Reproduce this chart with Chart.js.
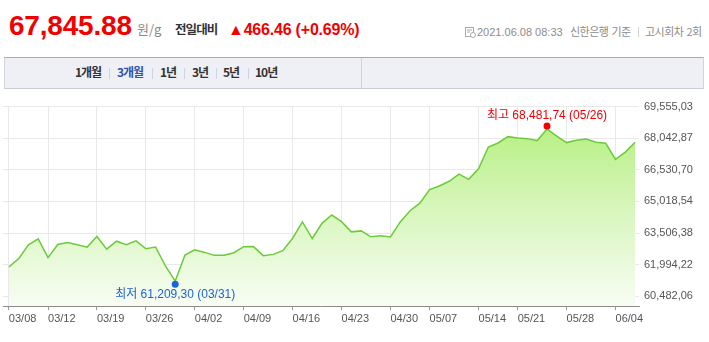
<!DOCTYPE html>
<html><head><meta charset="utf-8">
<script src="https://cdn.jsdelivr.net/npm/chart.js@4/dist/chart.umd.min.js"></script>
<style>
html,body{margin:0;padding:0;background:#fff;width:709px;height:342px;overflow:hidden;position:relative;font-family:"Liberation Sans",Arial,"Noto Sans CJK KR",sans-serif;}
.abs{position:absolute;white-space:nowrap;}
#price{left:9px;top:12px;font-size:28px;line-height:28px;font-weight:bold;color:#f20000;letter-spacing:-0.2px;}
#unit{left:137px;top:22px;font-size:13px;line-height:13px;color:#8a8a8a;font-family:"Noto Sans CJK KR",sans-serif;}
#cmpLabel{left:175px;top:22px;font-size:12.5px;line-height:13px;color:#333;font-weight:bold;letter-spacing:-0.9px;font-family:"Noto Sans CJK KR",sans-serif;}
#cmpVal{left:228px;top:22px;font-size:16px;line-height:16px;color:#f20000;font-weight:bold;letter-spacing:-0.2px;}
.info{top:26px;font-size:11px;line-height:12px;color:#8c8c8c;}
.infok{top:25px;font-size:11px;line-height:12px;color:#8c8c8c;font-family:"Noto Sans CJK KR",sans-serif;letter-spacing:-0.5px;word-spacing:1px;}
#tabbar{left:4px;top:57px;width:698px;height:30px;background:#eff0f5;border-top:1px solid #a8aab3;border-bottom:1px solid #c9cad2;border-left:1px solid #d4d5dc;border-right:1px solid #d4d5dc;}
#tabdiv{left:356px;top:0px;width:1px;height:30px;background:#d0d1d8;}
.tab{position:absolute;top:7px;font-size:12px;line-height:14px;font-weight:bold;color:#333;letter-spacing:-1px;font-family:"Noto Sans CJK KR",sans-serif;}
.tab.on{color:#3550a8;}
.sep{position:absolute;top:10px;width:1px;height:11px;background:#cfd3de;}
#chartbox{left:0;top:95px;width:709px;height:247px;}
</style></head>
<body>
<div class="abs" id="price">67,845.88</div>
<div class="abs" id="unit">원/g</div>
<div class="abs" id="cmpLabel">전일대비</div>
<div class="abs" id="cmpVal">▲466.46 (+0.69%)</div>
<div class="abs info" style="left:465px"><svg width="11" height="11" viewBox="0 0 11 11" style="vertical-align:-2px"><rect x="0.5" y="0.5" width="8" height="9" fill="none" stroke="#aaa"/><line x1="2" y1="3" x2="7" y2="3" stroke="#aaa"/><line x1="2" y1="5" x2="5" y2="5" stroke="#aaa"/><circle cx="8" cy="8" r="2.5" fill="#fff" stroke="#aaa"/></svg></div>
<div class="abs info" style="left:477px">2021.06.08 08:33</div>
<div class="abs infok" style="left:570px">신한은행 기준</div>
<div class="abs" style="left:638px;top:27px;width:1px;height:10px;background:#d5d5d5"></div>
<div class="abs infok" style="left:645px">고시회차 2회</div>
<div class="abs" id="tabbar">
  <div class="abs" id="tabdiv"></div>
  <span class="tab" style="left:70px">1개월</span><span class="sep" style="left:104px"></span>
  <span class="tab on" style="left:112px">3개월</span><span class="sep" style="left:147px"></span>
  <span class="tab" style="left:155px">1년</span><span class="sep" style="left:179px"></span>
  <span class="tab" style="left:187px">3년</span><span class="sep" style="left:211px"></span>
  <span class="tab" style="left:218px">5년</span><span class="sep" style="left:243px"></span>
  <span class="tab" style="left:250px">10년</span>
</div>
<div class="abs" id="chartbox"><canvas id="c" width="709" height="247"></canvas></div>
<script>
const dates = ['03/08','03/09','03/10','03/11','03/12','03/15','03/16','03/17','03/18','03/19',
 '03/22','03/23','03/24','03/25','03/26','03/29','03/30','03/31','04/01','04/02',
 '04/05','04/06','04/07','04/08','04/09','04/12','04/13','04/14','04/15','04/16',
 '04/19','04/20','04/21','04/22','04/23','04/26','04/27','04/28','04/29','04/30',
 '05/03','05/04','05/06','05/07','05/10','05/11','05/12','05/13','05/14',
 '05/17','05/18','05/20','05/21','05/24','05/25','05/26','05/27','05/28',
 '05/31','06/01','06/02','06/03','06/04','06/07','06/08'];
const prices = [61886,62284,62948,63233,62332,62963,63057,62950,62835,63342,
 62740,63119,62948,63138,62759,62835,61933,61209.30,62455,62711,
 62583,62441,62450,62569,62854,62860,62427,62488,62664,63261,
 64039,63247,63973,64371,64053,63565,63612,63328,63375,63320,
 64040,64575,64940,65585,65761,65984,66330,66079,66581,
 67625,67815,68118,68052,68023,67929,68481.74,68147,67834,
 67943,68004,67848,67800,67027,67379.42,67845.88];
const tickDates = ['03/08','03/12','03/19','03/26','04/02','04/09','04/16','04/23','04/30','05/07','05/14','05/21','05/28','06/04'];
const yTicks = [60482.06,61994.22,63506.38,65018.54,66530.70,68042.87,69555.03];
const lowPoint = {label:'최저', date:'03/31', value:61209.30};
const highPoint = {label:'최고', date:'05/26', value:68481.74};

function fmt(v){return v.toLocaleString('en-US',{minimumFractionDigits:2,maximumFractionDigits:2}).replace('.',',');}

const markPlugin = {
  id:'marks',
  afterDatasetsDraw(chart){
    const c = chart.ctx, xs = chart.scales.x, ys = chart.scales.y;
    c.save();
    c.font = '12px "Liberation Sans","Noto Sans CJK KR",sans-serif';
    c.textAlign = 'center'; c.textBaseline = 'middle';
    [[lowPoint,'#1b63d8',3,14],[highPoint,'#f00000',-3,-13]].forEach(([p,col,dOff,tOff])=>{
      const px = xs.getPixelForValue(dates.indexOf(p.date));
      const py = ys.getPixelForValue(p.value);
      c.fillStyle = col;
      c.beginPath(); c.arc(px, py + dOff, 3.5, 0, Math.PI*2); c.fill();
      c.fillText(p.label + ' ' + fmt(p.value) + ' (' + p.date + ')', px, py + tOff);
    });
    c.restore();
  }
};

new Chart(document.getElementById('c'), {
  type:'line',
  data:{datasets:[{
    data: prices.map((v,i)=>({x:i,y:v})),
    borderColor:'#6ccb39', borderWidth:1.5, pointRadius:0, tension:0,
    fill:'start',
    backgroundColor:(ctx)=>{
      const a = ctx.chart.chartArea; if(!a) return 'rgba(0,0,0,0)';
      const g = ctx.chart.ctx.createLinearGradient(0,a.top,0,a.bottom);
      g.addColorStop(0,'rgb(176,238,118)');
      g.addColorStop(0.5,'rgb(214,246,186)');
      g.addColorStop(1,'rgb(248,253,244)');
      return g;
    }
  }]},
  options:{
    responsive:false, animation:false,
    layout:{padding:{left:3,top:10,right:0,bottom:0}},
    plugins:{legend:{display:false},tooltip:{enabled:false}},
    scales:{
      x:{type:'linear',min:-0.6,max:64.4,bounds:'data',
        afterBuildTicks:s=>{s.ticks = tickDates.map(d=>({value:dates.indexOf(d)}));},
        ticks:{align:'start',autoSkip:false,maxRotation:0,padding:2,color:'#555',
          font:{family:'Liberation Sans',size:11},callback:v=>dates[v]},
        grid:{color:'#e9e9e9',tickColor:'#999',tickLength:4},
        border:{color:'#8c8c8c',width:1},
        afterFit:s=>{s.height=36;}},
      y:{position:'right',min:60020,max:69555.03,bounds:'data',
        afterBuildTicks:s=>{s.ticks = yTicks.map(v=>({value:v}));},
        ticks:{padding:5,color:'#555',font:{family:'Liberation Sans',size:11},callback:v=>fmt(v)},
        grid:{color:'#e9e9e9',drawTicks:false},
        border:{display:false},
        afterFit:s=>{s.width=70;}}
    }
  },
  plugins:[markPlugin]
});
</script>
</body></html>
